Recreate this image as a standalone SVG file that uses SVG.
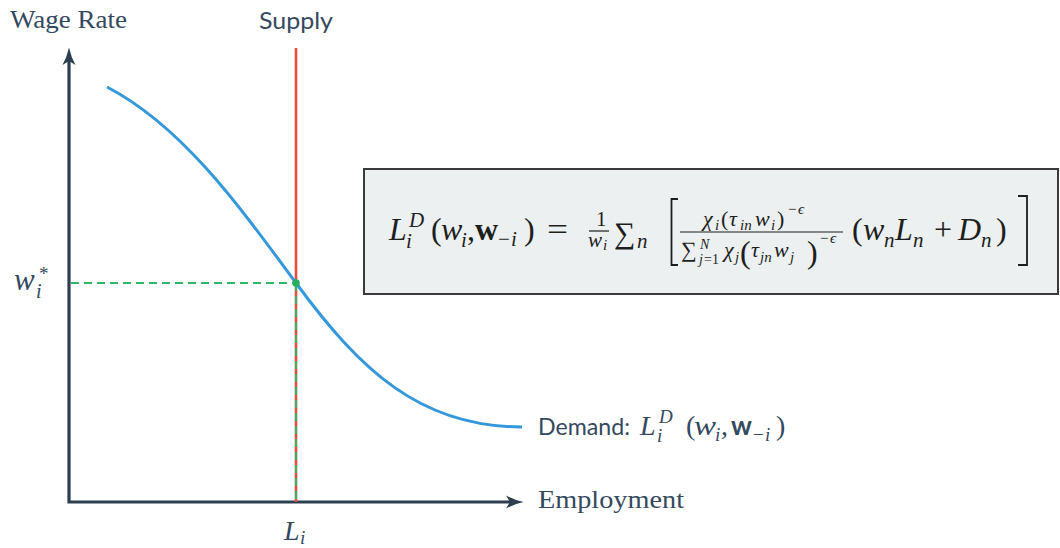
<svg xmlns="http://www.w3.org/2000/svg" width="1060" height="548" viewBox="0 0 1060 548">
  <style>
    .lbl { fill: #34495e; }
    .serif { font-family: "Liberation Serif", "DejaVu Serif", serif; }
    .sans { font-family: Lato, "Open Sans", "Liberation Sans", sans-serif; }
    .mi { font-family: "Liberation Serif", "DejaVu Serif", serif; font-style: italic; fill: #1e1e1e; }
    .mr { font-family: "Liberation Serif", "DejaVu Serif", serif; fill: #1e1e1e; }
    .mb { font-family: "Liberation Serif", "DejaVu Serif", serif; font-weight: bold; fill: #1e1e1e; }
    .sb { font-family: Lato, "Open Sans", "Liberation Sans", sans-serif; font-weight: bold; }
    .ml { fill: #34495e; }
    .axis { fill: none; stroke: #2c3e50; stroke-width: 3.2; }
    .dash { fill: none; stroke: #2fb86a; stroke-width: 2; stroke-dasharray: 8 5; }
  </style>
  <defs>
    <marker id="arrow" markerUnits="userSpaceOnUse" markerWidth="18" markerHeight="14" viewBox="0 0 18 14" refX="4" refY="7" orient="auto-start-reverse">
      <path d="M0,0.5 Q8,5 17.5,7 Q8,9 0,13.5 L4,7 Z" fill="#2c3e50"/>
    </marker>
  </defs>
  <rect width="1060" height="548" fill="#ffffff"/>

  <g id="connectors">
    <path id="axes" class="axis" d="M69,61 V502 H510" marker-start="url(#arrow)" marker-end="url(#arrow)"/>
    <line id="supply-line" x1="296" y1="48" x2="296" y2="502" stroke="#e74c3c" stroke-width="2.6"/>
    <line id="guide-v" class="dash" x1="296" y1="283" x2="296" y2="501"/>
    <line id="guide-h" class="dash" x1="71" y1="283" x2="296" y2="283"/>
    <path id="demand-curve" d="M107,87 C180,125 235,200 296,283 C360,370 420,427 522,427" fill="none" stroke="#3498db" stroke-width="3"/>
  </g>

  <g id="equilibrium">
    <circle cx="296" cy="283" r="3.8" fill="#27ae60"/>
  </g>

  <g id="y-axis-label">
    <text class="lbl serif" x="10" y="28" font-size="25" textLength="117" lengthAdjust="spacingAndGlyphs">Wage Rate</text>
  </g>
  <g id="supply-label">
    <text class="lbl sans" x="259" y="29" font-size="24" textLength="74" lengthAdjust="spacingAndGlyphs">Supply</text>
  </g>
  <g id="x-axis-label">
    <text class="lbl serif" x="538" y="508" font-size="26" textLength="146" lengthAdjust="spacingAndGlyphs">Employment</text>
  </g>

  <g id="w-star-label">
    <text class="mi ml" x="14" y="290" font-size="31">w</text>
    <text class="mr ml" x="39" y="280" font-size="19">*</text>
    <text class="mi ml" x="36" y="298" font-size="20">i</text>
  </g>

  <g id="L-i-label">
    <text class="mi ml" x="284" y="540" font-size="28">L</text>
    <text class="mi ml" x="300" y="544" font-size="19">i</text>
  </g>

  <g id="demand-label">
    <text class="lbl sans" x="538" y="435" font-size="24" textLength="92" lengthAdjust="spacingAndGlyphs">Demand:</text>
    <text class="mi ml" x="640" y="435" font-size="28">L</text>
    <text class="mi ml" x="659" y="423" font-size="19">D</text>
    <text class="mi ml" x="657" y="442" font-size="19">i</text>
    <text class="mr ml" x="686" y="435" font-size="28">(</text>
    <text class="mi ml" x="694" y="435" font-size="28" textLength="22" lengthAdjust="spacingAndGlyphs">w</text>
    <text class="mi ml" x="715" y="441" font-size="19">i</text>
    <text class="mr ml" x="721" y="435" font-size="28">,</text>
    <text class="sb ml" x="731" y="435" font-size="26">w</text>
    <text class="mr ml" x="753" y="441" font-size="19">−</text>
    <text class="mi ml" x="765" y="441" font-size="19">i</text>
    <text class="mr ml" x="776" y="435" font-size="28">)</text>
  </g>

  <g id="formula-box">
    <rect x="364" y="169" width="694" height="125" fill="#ecf0f1" stroke="#3a3a3a" stroke-width="2"/>
    <!-- left side -->
    <text class="mi" x="389" y="240" font-size="32">L</text>
    <text class="mi" x="409" y="227" font-size="21">D</text>
    <text class="mi" x="406" y="248" font-size="21">i</text>
    <text class="mr" x="431" y="240" font-size="32">(</text>
    <text class="mi" x="441" y="240" font-size="32">w</text>
    <text class="mi" x="461" y="247" font-size="21">i</text>
    <text class="mr" x="467" y="240" font-size="32">,</text>
    <text class="mb" x="475" y="240" font-size="32">w</text>
    <text class="mr" x="498" y="246" font-size="21">−</text>
    <text class="mi" x="511" y="246" font-size="21">i</text>
    <text class="mr" x="524" y="240" font-size="32">)</text>
    <text class="mr" x="547" y="240" font-size="32" textLength="21" lengthAdjust="spacingAndGlyphs">=</text>
    <!-- 1 / w_i -->
    <text class="mr" x="596" y="226" font-size="21">1</text>
    <line x1="589" y1="231" x2="609" y2="231" stroke="#1e1e1e" stroke-width="1.2"/>
    <text class="mi" x="588" y="247" font-size="21">w</text>
    <text class="mi" x="603" y="250" font-size="15">i</text>
    <!-- sum_n -->
    <text class="mr" x="614" y="243" font-size="30">∑</text>
    <text class="mi" x="637" y="248" font-size="21">n</text>
    <!-- [ -->
    <path d="M678,199 H671.5 V265 H678" fill="none" stroke="#1e1e1e" stroke-width="1.8"/>
    <!-- numerator -->
    <text class="mi" x="703" y="226" font-size="22">χ</text>
    <text class="mi" x="715" y="230" font-size="15">i</text>
    <text class="mr" x="721" y="226" font-size="22">(</text>
    <text class="mi" x="729" y="226" font-size="22">τ</text>
    <text class="mi" x="740" y="230" font-size="15">in</text>
    <text class="mi" x="755" y="226" font-size="22">w</text>
    <text class="mi" x="771" y="230" font-size="15">i</text>
    <text class="mr" x="777" y="226" font-size="22">)</text>
    <text class="mr" x="788" y="214" font-size="15">−</text>
    <text class="mi" x="798" y="214" font-size="15">ϵ</text>
    <!-- fraction bar -->
    <line x1="680" y1="232" x2="843" y2="232" stroke="#1e1e1e" stroke-width="1.2"/>
    <!-- denominator -->
    <text class="mr" x="681" y="257" font-size="22">∑</text>
    <text class="mi" x="700" y="249" font-size="14">N</text>
    <text class="mi" x="699" y="264" font-size="14">j</text>
    <text class="mr" x="704" y="264" font-size="14">=1</text>
    <text class="mi" x="724" y="257" font-size="22">χ</text>
    <text class="mi" x="735" y="262" font-size="15">j</text>
    <text class="mr" x="740" y="263" font-size="32">(</text>
    <text class="mi" x="751" y="257" font-size="22">τ</text>
    <text class="mi" x="760" y="262" font-size="15">jn</text>
    <text class="mi" x="774" y="257" font-size="22">w</text>
    <text class="mi" x="790" y="262" font-size="15">j</text>
    <text class="mr" x="807" y="263" font-size="32">)</text>
    <text class="mr" x="820" y="243" font-size="15">−</text>
    <text class="mi" x="830" y="243" font-size="15">ϵ</text>
    <!-- (w_n L_n + D_n) -->
    <text class="mr" x="852" y="240" font-size="32">(</text>
    <text class="mi" x="863" y="240" font-size="32">w</text>
    <text class="mi" x="884" y="247" font-size="21">n</text>
    <text class="mi" x="895" y="240" font-size="32">L</text>
    <text class="mi" x="913" y="247" font-size="21">n</text>
    <text class="mr" x="934" y="240" font-size="32">+</text>
    <text class="mi" x="958" y="240" font-size="32">D</text>
    <text class="mi" x="981" y="247" font-size="21">n</text>
    <text class="mr" x="996" y="240" font-size="32">)</text>
    <!-- ] -->
    <path d="M1018,196 H1027 V265 H1018" fill="none" stroke="#1e1e1e" stroke-width="1.8"/>
  </g>
</svg>
